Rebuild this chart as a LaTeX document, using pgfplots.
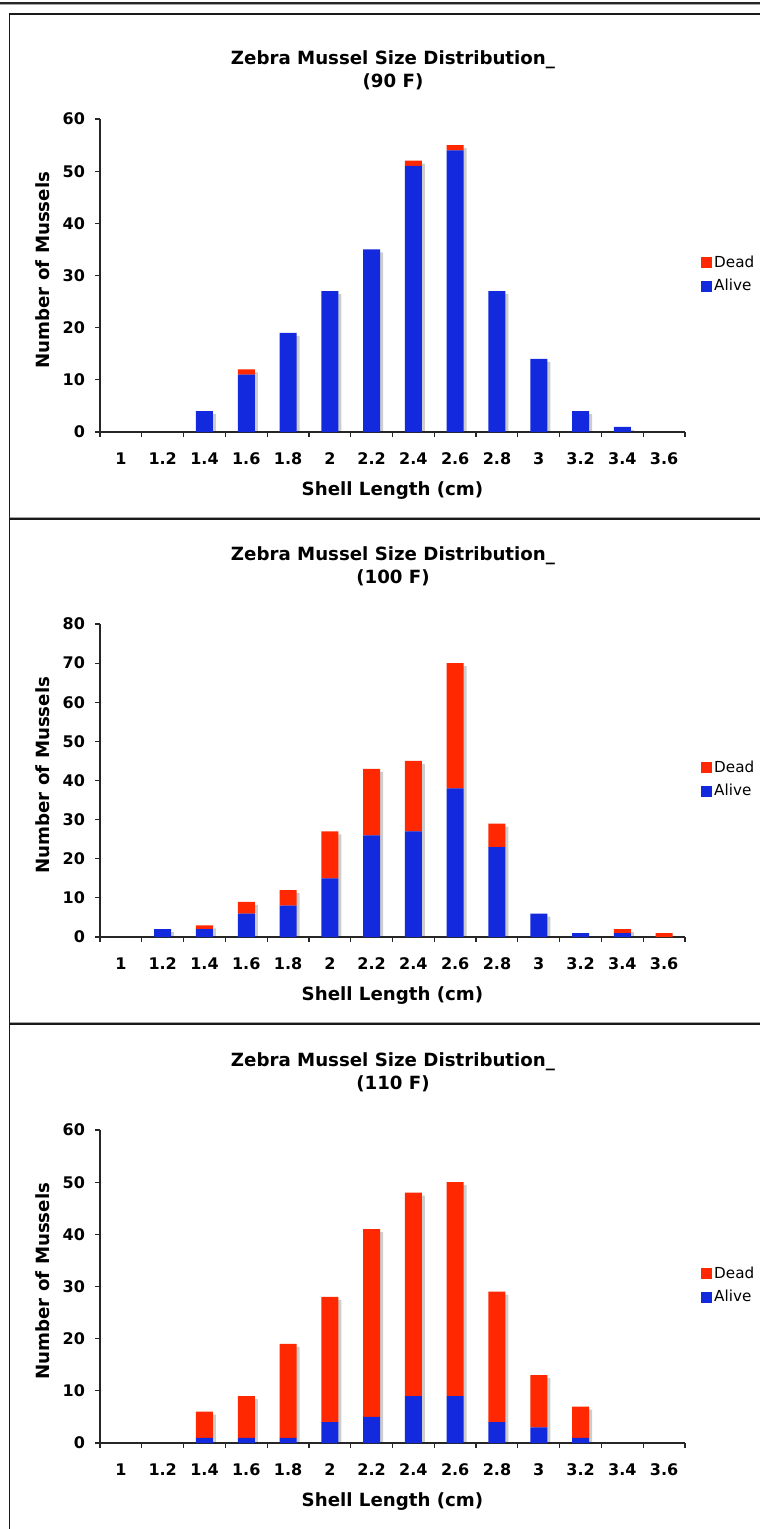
\documentclass[border=0pt]{standalone}
\usepackage{fontspec}
\setmainfont{DejaVu Sans}
\usepackage{pgfplots}
\usepackage{pgfplotstable}
\pgfplotsset{compat=1.18}

\definecolor{alive}{RGB}{18,41,222}
\definecolor{dead}{RGB}{255,40,0}
\definecolor{shade}{RGB}{205,205,205}

% bin centre, alive, dead, total
\pgfplotstableread{
x    alive dead total
0.5  0  0  0
1.5  0  0  0
2.5  4  0  4
3.5  11 1  12
4.5  19 0  19
5.5  27 0  27
6.5  35 0  35
7.5  51 1  52
8.5  54 1  55
9.5  27 0  27
10.5 14 0  14
11.5 4  0  4
12.5 1  0  1
13.5 0  0  0
}\tninety

\pgfplotstableread{
x    alive dead total
0.5  0  0  0
1.5  2  0  2
2.5  2  1  3
3.5  6  3  9
4.5  8  4  12
5.5  15 12 27
6.5  26 17 43
7.5  27 18 45
8.5  38 32 70
9.5  23 6  29
10.5 6  0  6
11.5 1  0  1
12.5 1  1  2
13.5 0  1  1
}\thundred

\pgfplotstableread{
x    alive dead total
0.5  0  0  0
1.5  0  0  0
2.5  1  5  6
3.5  1  8  9
4.5  1  18 19
5.5  4  24 28
6.5  5  36 41
7.5  9  39 48
8.5  9  41 50
9.5  4  25 29
10.5 3  10 13
11.5 1  6  7
12.5 0  0  0
13.5 0  0  0
}\tonefive

\newcommand\lblfont{\fontsize{9.1}{11}\selectfont\bfseries}
\newcommand\tickfont{\fontsize{8}{9.5}\selectfont\bfseries}

\pgfplotsset{
  mussel/.style={
    scale only axis, width=292.5pt, height=156.5pt,
    anchor=south west,
    xmin=0, xmax=14, ymin=0,
    bar width=8.5pt,
  },
  sq/.style={legend image code/.code={\fill[##1] (0pt,-2.75pt) rectangle (5.5pt,2.75pt);}},
}

% #1 axis origin y, #2 table, #3 ymax, #4 second title line, #5 title offset
\newcommand\panel[5]{%
  \begin{axis}[mussel, at={(50pt,#1)}, ymax=#3, hide axis, ybar]
    \addplot[fill=shade, draw=none, xshift=1.5pt, yshift=-1.5pt] table[x=x, y=total] {#2};
  \end{axis}
  \begin{axis}[mussel, at={(50pt,#1)}, ymax=#3, ybar stacked,
    axis x line*=bottom, axis y line*=left,
    axis line style={line width=0.6pt, black!85},
    tick style={line width=0.6pt, black!85},
    tick align=outside, major tick length=2.5pt,
    xtick={0,...,14}, xticklabels={},
    extra x ticks={0.5,1.5,...,13.5},
    extra x tick labels={1,1.2,1.4,1.6,1.8,2,2.2,2.4,2.6,2.8,3,3.2,3.4,3.6},
    extra x tick style={major tick length=0pt, tick label style={font=\tickfont, yshift=-7pt}},
    ytick distance=10,
    yticklabel style={font=\tickfont, xshift=-1.5pt, /pgf/number format/assume math mode=true},
    xlabel={Shell Length (cm)}, ylabel={Number of Mussels},
    every axis x label/.style={at={(axis description cs:0.5,0)}, anchor=base, yshift=-31.5pt, font=\lblfont},
    every axis y label/.style={at={(axis description cs:-0.0974,0.517)}, rotate=90, anchor=center, font=\lblfont},
    reverse legend,
    legend cell align=left,
    legend style={at={(rel axis cs:1.027,0.503)}, anchor=west, draw=none, fill=none,
      font=\fontsize{7.6}{9}\selectfont, row sep=2.5pt, inner sep=0pt,
      nodes={inner sep=1pt}},
  ]
    \addplot[fill=alive, draw=none, sq] table[x=x, y=alive] {#2};
    \addlegendentry{Alive}
    \addplot[fill=dead, draw=none, sq] table[x=x, y=dead] {#2};
    \addlegendentry{Dead}
  \end{axis}
  \node[font=\lblfont, anchor=base] at (196.5pt, {#1+188.5pt+#5}) {Zebra Mussel Size Distribution\_};
  \node[font=\lblfont, anchor=base] at (196.5pt, {#1+177pt+#5}) {#4};
}

\begin{document}
\begin{tikzpicture}
  \useasboundingbox (0,0) rectangle (380pt,-764.5pt);
  % frame
  \draw[line width=1.2pt, black!85] (0,-1.6pt) -- (380pt,-1.6pt);
  \draw[line width=0.5pt, black!35] (0,-2.4pt) -- (380pt,-2.4pt);
  \draw[line width=0.8pt, black!90] (4.75pt,-764.5pt) -- (4.75pt,-7pt) -- (380pt,-7pt);
  \draw[line width=0.8pt, black!90] (4.75pt,-259.5pt) -- (380pt,-259.5pt);
  \draw[line width=0.4pt, black!35] (4.75pt,-258.8pt) -- (380pt,-258.8pt);
  \draw[line width=0.8pt, black!90] (4.75pt,-512pt) -- (380pt,-512pt);
  \draw[line width=0.4pt, black!35] (4.75pt,-511.3pt) -- (380pt,-511.3pt);

  \panel{-216pt}{\tninety}{60}{(90 F)}{-5pt}
  \panel{-468.5pt}{\thundred}{80}{(100 F)}{0pt}
  \panel{-721.5pt}{\tonefive}{60}{(110 F)}{0pt}
\end{tikzpicture}
\end{document}
